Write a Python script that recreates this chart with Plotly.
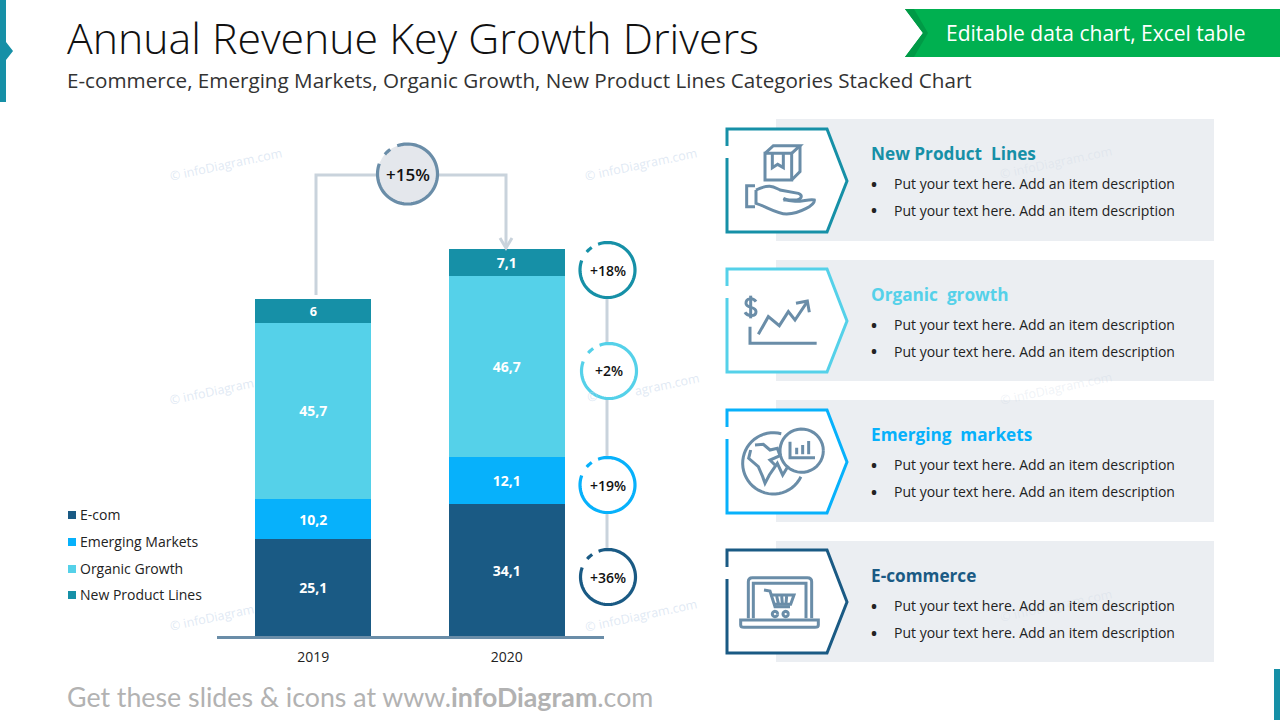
import re

import numpy as np
import plotly.graph_objects as go

# chart values
years = ["2019", "2020"]
ecom = [25.1, 34.1]
emerging = [10.2, 12.1]
organic = [45.7, 46.7]
new_product = [6, 7.1]
series_names = ["E-com", "Emerging Markets", "Organic Growth", "New Product Lines"]
growth_labels = ["+36%", "+19%", "+2%", "+18%"]
total_growth = "+15%"
panel_titles = ["New Product  Lines", "Organic  growth", "Emerging  markets", "E-commerce"]

C_ECOM = "#1a5a84"
C_EMERGING = "#07b1fb"
C_ORGANIC = "#55d1e9"
C_NEW = "#1690a7"
C_ICON = "#6a8da8"
C_LINE = "#c9d3dc"
C_PANEL = "#ebeef2"
FONT = "Open Sans"

W, H = 1280, 720


def to_paper(path, ox=0, oy=0, s=1.0):
    """pixel path string -> paper path string"""
    out = []
    is_x = True
    for tok in re.findall(r"[A-Za-z]|-?\d+\.?\d*", path):
        if tok.isalpha():
            out.append(tok)
            continue
        v = float(tok)
        if is_x:
            out.append(f"{(ox + v * s) / W:.5f}")
        else:
            out.append(f"{1 - (oy + v * s) / H:.5f}")
        is_x = not is_x
    return " ".join(out)


def arc(cx, cy, r, a0, a1, n=40):
    """arc as a polyline, angles in degrees, counter clockwise positive"""
    pts = []
    for a in np.linspace(a0, a1, n):
        pts.append(f"{cx + r * np.cos(np.radians(a)):.2f} {cy - r * np.sin(np.radians(a)):.2f}")
    return "M " + " L ".join(pts)


shapes = []
annotations = []


def add_path(path, line=None, width=0, fill=None, **kw):
    shapes.append(dict(
        type="path", path=to_paper(path, **kw), xref="paper", yref="paper",
        line=dict(color=line or "rgba(0,0,0,0)", width=width),
        fillcolor=fill or "rgba(0,0,0,0)",
    ))


def add_text(x, y, text, size, color="#222222", anchor="left", weight=None, angle=0, family=FONT):
    annotations.append(dict(
        x=x / W, y=1 - y / H, xref="paper", yref="paper", text=text, showarrow=False,
        xanchor=anchor, yanchor="middle", borderpad=0, textangle=angle,
        font=dict(family=family, size=size, color=color, weight=weight),
    ))


# watermarks, fainter where they lie over the panels
WM = "rgba(198,214,235,0.55)"
WM_PANEL = "rgba(198,210,225,0.28)"
for wx, wy, wt, wc in [(226, 165, "© infoDiagram.com", WM), (641, 165, "© infoDiagram.com", WM),
                       (1056, 163, "© infoDiagram.com", WM_PANEL), (212, 392, "© infoDiagram", WM),
                       (1056, 388, "© infoDiagram.com", WM_PANEL), (212, 617, "© infoDiagram", WM),
                       (641, 615, "© infoDiagram.com", WM), (1056, 605, "© infoDiagram.com", WM_PANEL),
                       (592, 396, "©", WM), (667, 384, "agram.com", WM)]:
    add_text(wx, wy, wt, 12.5, wc, "center", angle=-12)

# corner marks
add_path("M 0 0 L 6 0 L 6 42 L 13 51 L 6 60 L 6 102 L 0 102 Z", fill=C_NEW)
add_path("M 1274 669 L 1280 669 L 1280 720 L 1274 720 Z", fill=C_NEW)

# green banner
add_path("M 905 9 L 1280 9 L 1280 57 L 905 57 L 923 33 Z", fill="#00b050")
add_path("M 905 9 L 914 9 L 928 33 L 914 57 L 905 57 L 923 33 Z", fill="#009a46")
add_text(1095, 33, "Editable data chart, Excel table", 21, "white", "center")

# header
add_text(66, 37, "Annual Revenue Key Growth Drivers", 42.8, "#111111", weight=300)
add_text(65.5, 80, "E-commerce, Emerging Markets, Organic Growth, New Product Lines Categories Stacked Chart",
         20.65, "#333333")
add_text(65.5, 697, "Get these slides &amp; icons at www.<b>infoDiagram</b>.com", 26.75, "#b2b2b2", family="Lato")

# right side panels
panel_tops = [119, 260, 400, 541]
panel_heights = [122, 121, 122, 121]
hex_tops = [129, 269, 410, 550]
title_ys = [153, 294, 434, 575]
panel_colors = [C_NEW, C_ORGANIC, C_EMERGING, C_ECOM]
for top, ph, ht, ty, col, title in zip(panel_tops, panel_heights, hex_tops, title_ys, panel_colors, panel_titles):
    add_path(f"M 776 {top} L 1214 {top} L 1214 {top + ph} L 776 {top + ph} Z", fill=C_PANEL)
    add_path(f"M 727 {ht} L 827 {ht} L 847 {ht + 52} L 827 {ht + 103} L 727 {ht + 103} Z", fill="white")
    add_path(f"M 727 {ht + 17} L 727 {ht} L 827 {ht} L 847 {ht + 52} L 827 {ht + 103} L 727 {ht + 103} L 727 {ht + 29}",
             line=col, width=3)
    add_text(870, ty, title, 17.2, col, weight=700)
    for dy in (30.5, 57.5):
        add_text(870, ty + dy, "•", 16, "#222222", weight=700)
        add_text(893, ty + dy, "Put your text here. Add an item description", 14, "#222222")

# icons, drawn in a 3x grid from the panel origin
icon = dict(line=C_ICON, width=3, s=1 / 3)
box = dict(ox=720, oy=115, **icon)
add_path("M 135 115 L 215 115 L 215 195 L 135 195 Z", **box)
add_path("M 135 115 L 160 92 L 240 92 L 215 115", **box)
add_path("M 240 92 L 240 170 L 215 195", **box)
add_path("M 157 115 L 157 158 L 173 148 L 190 158 L 190 115", **box)
add_path("M 105 212 L 80 212 L 80 275 L 105 275", **box)
add_path("M 108 225 C 150 205 160 215 180 225 L 235 235 C 250 240 245 255 225 255 L 190 255", **box)
add_path("M 190 250 C 230 270 260 250 283 255 C 285 270 240 295 200 297 C 170 297 140 275 108 265 L 108 225", **box)

add_path("M 90 635 L 90 685 L 290 685", **box)
add_path("M 115 658 L 145 605 L 178 632 L 205 590 L 225 615 L 262 560", **box)
add_path("M 228 565 L 262 558 L 268 592", **box)
add_path("M 108 560 C 100 548 78 548 78 565 C 78 582 108 572 108 590 C 108 605 82 605 75 592", **box)
add_path("M 92 542 L 92 610", **box)

globe = dict(ox=720, oy=395, **icon)
add_path(arc(160, 205, 92, 75, 334), **globe)
add_path(arc(245, 167, 65, 0, 360), **globe)
add_path("M 210 140 L 210 188 L 285 188", **globe)
add_path("M 230 158 L 230 178 M 248 150 L 248 178 M 266 138 L 266 178", **globe)
add_path("M 105 150 L 130 148 L 150 165 L 172 160 L 180 182 L 150 195 L 165 210", **globe)
add_path("M 92 165 L 86 190 L 115 215 L 128 245 L 135 265 L 148 240 L 172 205 L 188 240 L 205 212", **globe)

add_path("M 85 670 L 85 560 Q 85 548 97 548 L 262 548 Q 275 548 275 560 L 275 670", **globe)
add_path("M 100 670 L 100 565 L 258 565 L 258 670", **globe)
add_path("M 62 675 L 295 675 L 295 690 Q 295 697 285 697 L 72 697 Q 62 697 62 690 Z", **globe)
add_path("M 132 585 L 150 588 L 165 635 L 210 635", **globe)
add_path("M 150 600 L 222 600 L 212 628 L 160 628", **globe)
add_path("M 170 603 L 175 625 M 185 603 L 187 625 M 200 603 L 198 625", **globe)
add_path(arc(165, 657, 8, 0, 360, 20), **globe)
add_path(arc(197, 657, 8, 0, 360, 20), **globe)

# connector between the two years
add_path("M 316 295 L 316 175 L 378 175", line=C_LINE, width=3)
add_path("M 438 175 L 506 175 L 506 246", line=C_LINE, width=3)
add_path("M 500 238 L 506 248 L 512 238", line=C_LINE, width=3)
add_path("M 607 298 L 607 549", line=C_LINE, width=3)


def ring(cx, cy, r, col, label, size, fill="white"):
    add_path(arc(cx, cy, r, 0, 360), fill=fill)
    add_path(arc(cx, cy, r, 110, -200, 70), line=col, width=3.2)
    add_path(arc(cx, cy, r, 125, 139, 6), line=col, width=3.2)
    add_text(cx, cy, label, size, "#111111", "center", weight=600)


ring(407.5, 174, 30, C_ICON, total_growth, 17, fill="#e4e7ec")
for (cx, cy), col, label in zip([(608, 577), (607.5, 485), (609, 371), (607.5, 270)],
                                [C_ECOM, C_EMERGING, C_ORGANIC, C_NEW], growth_labels):
    ring(cx, cy, 27.5, col, label, 14)

# legend
for name, col, ly in zip(series_names, [C_ECOM, C_EMERGING, C_ORGANIC, C_NEW], [515, 542, 569, 595]):
    add_path(f"M 68 {ly - 4} L 76 {ly - 4} L 76 {ly + 4} L 68 {ly + 4} Z", fill=col)
    add_text(79, ly - 1, name, 14, "#222222")

fig = go.Figure()
for name, values, col in zip(series_names, [ecom, emerging, organic, new_product],
                             [C_ECOM, C_EMERGING, C_ORGANIC, C_NEW]):
    fig.add_trace(go.Bar(
        x=years, y=values, name=name, marker=dict(color=col, line=dict(width=0)),
        text=[f"{v:g}".replace(".", ",") for v in values],
        textposition="inside", insidetextanchor="middle", textangle=0,
        insidetextfont=dict(family=FONT, size=14, color="white", weight=700),
        showlegend=False,
    ))

fig.update_layout(
    width=W, height=H, margin=dict(l=0, r=0, t=0, b=0),
    barmode="stack", bargap=0.4,
    paper_bgcolor="white", plot_bgcolor="rgba(0,0,0,0)",
    shapes=shapes, annotations=annotations, showlegend=False,
    font=dict(family=FONT),
)
fig.update_xaxes(
    type="category", domain=[216.5 / W, 603.5 / W], range=[-0.5, 1.5],
    showline=True, linecolor=C_ICON, linewidth=3, showgrid=False, zeroline=False,
    ticks="", tickfont=dict(family=FONT, size=14, color="#222222"), ticklabelstandoff=6,
)
fig.update_yaxes(
    domain=[1 - 636 / H, 1 - 249 / H], range=[0, 100], visible=False,
)

fig.write_html("out.html", config=dict(displayModeBar=False),
               post_script="document.body.style.margin='0';")
